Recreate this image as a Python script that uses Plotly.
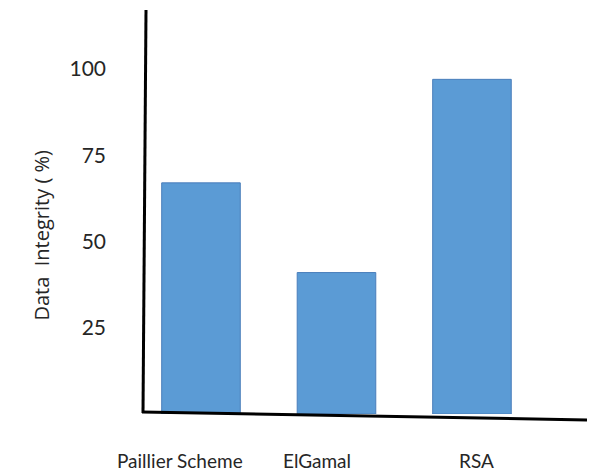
import plotly.graph_objects as go

# Data
methods = ["Paillier Scheme", "ElGamal", "RSA"]
integrity = [67, 41, 97]
tick_values = [25, 50, 75, 100]
tick_labels = ["25", "50", "75", "100"]

W, H = 595, 472
L, R, T, B = 143, 8, 10, 58          # plot-area margins in px
PW, PH = W - L - R, H - T - B


def px(x):
    return (x - L) / PW


def py(y):
    return (H - B - y) / PH


FONT = "Lato, 'Open Sans', sans-serif"
TXT = "#262626"

fig = go.Figure(
    go.Bar(
        x=methods,
        y=integrity,
        width=0.58,
        marker=dict(color="#5B9BD5", line=dict(color="#4A7EBB", width=1)),
    )
)

# hand-drawn look for the axis lines (slightly tilted)
fig.add_shape(type="line", xref="paper", yref="paper",
              x0=px(146), y0=py(10), x1=px(143), y1=py(413),
              line=dict(color="black", width=3))
fig.add_shape(type="line", xref="paper", yref="paper",
              x0=px(142), y0=py(412), x1=px(587), y1=py(420),
              line=dict(color="black", width=3))

# category labels below the baseline
label_shift = [-21, -19, 5]
for m, s in zip(methods, label_shift):
    fig.add_annotation(x=m, y=0, xref="x", yref="y", text=m, showarrow=False,
                       xshift=s, yshift=-46, font=dict(family=FONT, size=19, color=TXT))

# y-axis title
fig.add_annotation(x=px(25), y=py(235), xref="paper", yref="paper",
                   text="Data&nbsp;&nbsp;Integrity&nbsp;( %)", textangle=-90, showarrow=False,
                   font=dict(family="'Open Sans', sans-serif", size=20, color=TXT))

fig.update_layout(
    width=W, height=H,
    margin=dict(l=L, r=R, t=T, b=B),
    paper_bgcolor="white", plot_bgcolor="white",
    showlegend=False,
    xaxis=dict(range=[-0.428, 2.849], showticklabels=False, showgrid=False,
               zeroline=False, showline=False, ticks=""),
    yaxis=dict(range=[0, 117.1], tickvals=tick_values, ticktext=tick_labels,
               showgrid=False, zeroline=False, showline=False, ticks="",
               ticklabelstandoff=36,
               tickfont=dict(family=FONT, size=21, color=TXT)),
)

fig.write_html("out.html")
